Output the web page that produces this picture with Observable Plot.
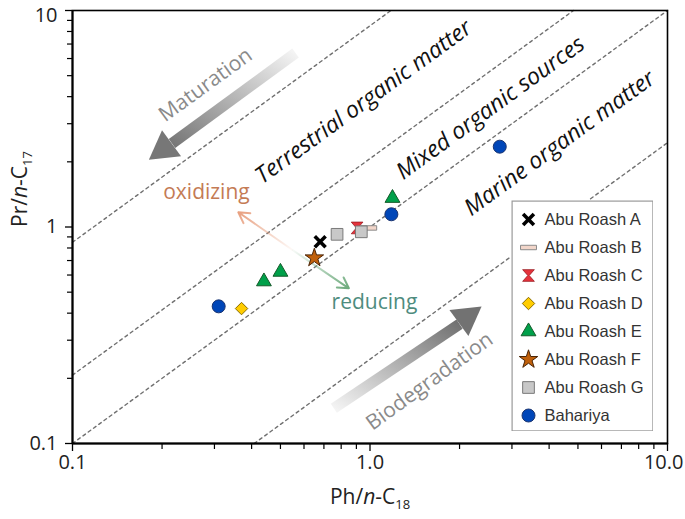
<!DOCTYPE html>
<html><head><meta charset="utf-8">
<script src="https://cdn.jsdelivr.net/npm/d3@7"></script>
<script src="https://cdn.jsdelivr.net/npm/@observablehq/plot@0.6"></script>
<style>
body{margin:0;background:#fff;}
#wrap{position:relative;width:685px;height:519px;overflow:hidden;}
#legend{position:absolute;left:511px;top:200px;}
</style></head><body><div id="wrap"></div>
<script>
// ---------------- data ----------------
const seriesNames = ["Abu Roash A","Abu Roash B","Abu Roash C","Abu Roash D","Abu Roash E","Abu Roash F","Abu Roash G","Bahariya"];
const phA = [0.68],  prA = [0.855];
const phB = [0.99],  prB = [0.99];
const phC = [0.905], prC = [0.99];
const phD = [0.37],  prD = [0.42];
const phE = [0.44, 0.50, 1.19], prE = [0.56, 0.62, 1.36];
const phF = [0.65],  prF = [0.72];
const phG = [0.775, 0.935], prG = [0.925, 0.95];
const phBah = [0.31, 1.18, 2.73], prBah = [0.43, 1.145, 2.35];

// Pr/Ph reference ratio lines (y = k x)
const ratioLines = [8.5, 2.07, 1, 0.245];

const xTicksMajor = [0.1, 1, 10];
const xTickLabels = ["0.1", "1.0", "10.0"];
const yTicksMajor = [0.1, 1, 10];
const yTickLabels = ["0.1", "1", "10"];
const minorTicks = [0.2,0.3,0.4,0.5,0.6,0.7,0.8,0.9,2,3,4,5,6,7,8,9];

// annotation anchors (data coordinates)
const regionLabels = ["Terrestrial organic matter", "Mixed organic sources", "Marine organic matter"];
const regionX = [0.951, 2.54, 4.34];
const regionY = [3.78, 3.55, 2.44];
const processLabels = ["Maturation", "Biodegradation"];
const processX = [0.28, 1.585];
const processY = [4.53, 0.194];
const redoxLabels = ["oxidizing", "reducing"];
const redoxX = [0.282, 1.035];
const redoxY = [1.45, 0.45];
const redoxColors = ["#C47B55", "#4E8C7E"];
const matArrow = {x1: 0.562, y1: 6.36, x2: 0.216, y2: 2.43};
const matHead = {x: 0.203, y: 2.30};
const bioArrow = {x1: 0.756, y1: 0.1454, x2: 2.00, y2: 0.356};
const bioHead = {x: 2.11, y: 0.382};
const oxArrow = {x1: 0.549, y1: 0.783, x2: 0.361, y2: 1.17};
const redArrow = {x1: 0.549, y1: 0.783, x2: 0.849, y2: 0.521};

// ---------------- symbols & styles ----------------
const hourglass = {draw(ctx, size) { const s = Math.sqrt(size) / 2;
  ctx.moveTo(-s, -s); ctx.lineTo(s, -s); ctx.lineTo(0.12 * s, 0); ctx.lineTo(s, s);
  ctx.lineTo(-s, s); ctx.lineTo(-0.12 * s, 0); ctx.closePath(); }};
const barSym = {draw(ctx, size) { const w = Math.sqrt(size) * 0.75, h = w * 0.28;
  ctx.moveTo(-w, -h); ctx.lineTo(w, -h); ctx.lineTo(w, h); ctx.lineTo(-w, h); ctx.closePath(); }};

const styles = {
  "Abu Roash A": {symbol: d3.symbolTimes, r: 5, stroke: "#000", strokeWidth: 3.6, fill: "none"},
  "Abu Roash B": {symbol: barSym, r: 6, fill: "#F2D6CA", stroke: "#8a8a8a", strokeWidth: 1},
  "Abu Roash C": {symbol: hourglass, r: 6.6, fill: "#E5323B", stroke: "#9a1c22", strokeWidth: 0.8},
  "Abu Roash D": {symbol: d3.symbolDiamond2, r: 5.6, fill: "#FFCC00", stroke: "#8a6d00", strokeWidth: 1},
  "Abu Roash E": {symbol: d3.symbolTriangle, r: 5.5, fill: "#00A04A", stroke: "#145a2a", strokeWidth: 1},
  "Abu Roash F": {symbol: d3.symbolStar, r: 5.8, fill: "#C0600B", stroke: "#4a2405", strokeWidth: 1},
  "Abu Roash G": {symbol: d3.symbolSquare, r: 6.6, fill: "#C8C8C8", stroke: "#7a7a7a", strokeWidth: 1},
  "Bahariya":    {symbol: d3.symbolCircle, r: 6.5, fill: "#0046B8", stroke: "#1a3470", strokeWidth: 1}
};
const seriesData = {
  "Abu Roash A": [phA, prA], "Abu Roash B": [phB, prB], "Abu Roash C": [phC, prC],
  "Abu Roash D": [phD, prD], "Abu Roash E": [phE, prE], "Abu Roash F": [phF, prF],
  "Abu Roash G": [phG, prG], "Bahariya": [phBah, prBah]
};
const drawOrder = ["Abu Roash B","Abu Roash C","Abu Roash A","Abu Roash D","Abu Roash E","Abu Roash F","Abu Roash G","Bahariya"];

const pts = (xs, ys) => xs.map((x, i) => ({x, y: ys[i]}));
const lineData = ratioLines.map(k => [
  {x: Math.max(0.1, 0.1 / k), y: Math.max(0.1, 0.1 / k) * k},
  {x: Math.min(10, 10 / k), y: Math.min(10, 10 / k) * k}
]);

const sansItalic = "'Open Sans', 'Noto Sans', sans-serif";
const legendFont = "'Liberation Sans', Arial, sans-serif";

const chart = Plot.plot({
  width: 685, height: 519,
  marginLeft: 72, marginRight: 18, marginTop: 10, marginBottom: 76,
  style: {fontFamily: "'Open Sans', sans-serif", fontSize: "19px", background: "white", color: "#222"},
  x: {type: "log", domain: [0.1, 10], axis: null},
  y: {type: "log", domain: [0.1, 10], axis: null},
  marks: [
    ...lineData.map(d => Plot.line(d, {x: "x", y: "y", stroke: "#707070", strokeWidth: 1.4, strokeDasharray: "3,3.5"})),
    Plot.text(regionLabels, {x: (d, i) => regionX[i], y: (d, i) => regionY[i], text: d => d, rotate: -36,
      fontStyle: "italic", fontSize: 23, fill: "#111", fontFamily: sansItalic}),
    Plot.text(processLabels, {x: (d, i) => processX[i], y: (d, i) => processY[i], text: d => d, rotate: -36,
      fontSize: 21, fill: "#8a8a8a"}),
    Plot.link([matArrow], {x1: "x1", y1: "y1", x2: "x2", y2: "y2", stroke: "url(#matGrad)", strokeWidth: 11}),
    Plot.dot([matHead], {x: "x", y: "y", symbol: "triangle", r: 12, fill: "#777", rotate: 234}),
    Plot.link([bioArrow], {x1: "x1", y1: "y1", x2: "x2", y2: "y2", stroke: "url(#bioGrad)", strokeWidth: 11}),
    Plot.dot([bioHead], {x: "x", y: "y", symbol: "triangle", r: 12, fill: "#727272", rotate: 54}),
    Plot.arrow([oxArrow], {x1: "x1", y1: "y1", x2: "x2", y2: "y2", stroke: "url(#oxGrad)", strokeWidth: 2, headLength: 9}),
    Plot.arrow([redArrow], {x1: "x1", y1: "y1", x2: "x2", y2: "y2", stroke: "url(#redGrad)", strokeWidth: 2, headLength: 9}),
    Plot.text(redoxLabels, {x: (d, i) => redoxX[i], y: (d, i) => redoxY[i], text: d => d,
      fill: (d, i) => redoxColors[i], fontSize: 21}),
    ...drawOrder.map(n => Plot.dot(pts(...seriesData[n]), {x: "x", y: "y", ...styles[n]})),
    // axes
    Plot.axisX({ticks: minorTicks, tickSize: 6, tickFormat: () => "", label: null, stroke: "#000", strokeWidth: 1.2}),
    Plot.axisX({ticks: xTicksMajor, tickSize: 8, tickFormat: () => "", label: null, stroke: "#000", strokeWidth: 1.3}),
    Plot.axisY({ticks: minorTicks, tickSize: 5, tickFormat: () => "", label: null, stroke: "#000", strokeWidth: 1.2}),
    Plot.axisY({ticks: yTicksMajor, tickSize: 7, tickFormat: () => "", label: null, stroke: "#000", strokeWidth: 1.3}),
    Plot.text(yTicksMajor.slice(0, 2), {y: d => d, frameAnchor: "left", dx: -15, textAnchor: "end",
      text: (d, i) => yTickLabels[i], fontSize: 20, fill: "#222"}),
    Plot.text(yTicksMajor.slice(2), {y: d => d, frameAnchor: "left", dx: -15, textAnchor: "end", lineAnchor: "top", dy: -3,
      text: () => yTickLabels[2], fontSize: 20, fill: "#222"}),
    Plot.text(xTicksMajor.slice(0, 2), {x: d => d, frameAnchor: "bottom", dy: 25, text: (d, i) => xTickLabels[i], fontSize: 20, fill: "#222"}),
    Plot.text(xTicksMajor.slice(2), {x: d => d, frameAnchor: "bottom", dy: 25, text: () => xTickLabels[2], textAnchor: "end", dx: 16, fontSize: 20, fill: "#222"}),
    Plot.frame({stroke: "#000", strokeWidth: 1.6}),
    Plot.ruleX([0.1], {stroke: "#000", strokeWidth: 2}),
    Plot.ruleY([0.1], {stroke: "#000", strokeWidth: 2}),
    Plot.text(["Pr/n-C17"], {frameAnchor: "left", dx: -52, rotate: -90, fontSize: 21, fill: "#222"}),
    Plot.text(["Ph/n-C18"], {frameAnchor: "bottom", dy: 60, fontSize: 21, fill: "#222"})
  ]
});

// gradients
const defs = d3.select(chart).insert("defs", ":first-child");
function grad(id, x1, y1, x2, y2, c1, c2, o1 = 1) {
  const g = defs.append("linearGradient").attr("id", id)
    .attr("x1", x1).attr("y1", y1).attr("x2", x2).attr("y2", y2);
  g.append("stop").attr("offset", "0%").attr("stop-color", c1).attr("stop-opacity", o1);
  g.append("stop").attr("offset", "100%").attr("stop-color", c2);
}
grad("matGrad", 1, 0, 0, 1, "#f4f4f4", "#777777");
grad("bioGrad", 0, 1, 1, 0, "#f4f4f4", "#727272");
grad("oxGrad", 1, 1, 0, 0, "#E8A080", "#E8A080", 0.05);
grad("redGrad", 0, 0, 1, 1, "#6DAA7C", "#6DAA7C", 0.05);

// rich axis titles
function richLabel(content, sub) {
  d3.select(chart).selectAll("text").filter(function () { return this.textContent === content; })
    .each(function () {
      const t = d3.select(this);
      t.text("");
      t.append("tspan").text(content.slice(0, 3));
      t.append("tspan").attr("font-style", "italic").text("n");
      t.append("tspan").text("-C");
      t.append("tspan").attr("font-size", 13).attr("dy", 5).text(sub);
    });
}
richLabel("Pr/n-C17", "17");
richLabel("Ph/n-C18", "18");

document.getElementById("wrap").appendChild(chart);

// legend (separate Plot positioned inside the frame)
const legend = Plot.plot({
  width: 142, height: 231, margin: 0,
  style: {background: "white", fontFamily: legendFont},
  x: {domain: [0, 1], range: [17, 130], axis: null},
  y: {type: "point", domain: seriesNames, range: [18, 215], padding: 0, axis: null},
  marks: [
    Plot.frame({stroke: "#9a9a9a", strokeWidth: 1.2, inset: 0.6}),
    ...seriesNames.map(n => Plot.dot([n], {x: () => 0, y: d => d, ...styles[n]})),
    Plot.text(seriesNames, {x: () => 0, y: d => d, dx: 16, text: d => d, textAnchor: "start",
      fontSize: 16.5, fill: "#333", fontFamily: legendFont})
  ]
});
legend.id = "legend";
document.getElementById("wrap").appendChild(legend);
</script></body></html>
